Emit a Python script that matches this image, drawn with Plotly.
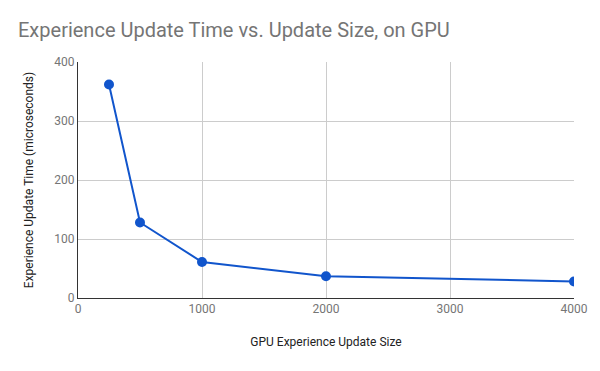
import plotly.graph_objects as go

update_size = [250, 500, 1000, 2000, 4000]
update_time_us = [362, 128, 61, 37, 28]
x_ticks = [0, 1000, 2000, 3000, 4000]
y_ticks = [0, 100, 200, 300, 400]

fig = go.Figure()
fig.add_trace(go.Scatter(
    x=update_size, y=update_time_us, mode="lines+markers",
    line=dict(color="#1155cc", width=2),
    marker=dict(color="#1155cc", size=10),
    showlegend=False,
))

fig.update_layout(
    width=600, height=371,
    margin=dict(l=78, r=26, t=62, b=73),
    paper_bgcolor="white", plot_bgcolor="white",
    font=dict(family="Roboto", size=12, color="#444"),
    title=dict(text="Experience Update Time vs. Update Size, on GPU",
               x=0.03, xanchor="left", y=0.92, yanchor="middle",
               font=dict(family="Roboto", size=20, color="#757575")),
)
fig.update_xaxes(
    range=[0, 4000], tickvals=x_ticks, showgrid=True, gridcolor="#cccccc",
    showline=True, linecolor="#333333", linewidth=1, zeroline=False,
    tickfont=dict(color="#757575", size=12), ticks="",
    title=dict(text="GPU Experience Update Size", font=dict(color="#222", size=12), standoff=22),
)
fig.update_yaxes(
    range=[0, 400], tickvals=y_ticks, showgrid=True, gridcolor="#cccccc",
    showline=True, linecolor="#333333", linewidth=1, zeroline=False,
    tickfont=dict(color="#757575", size=12), ticks="",
    title=dict(text="Experience Update Time (microseconds)", font=dict(color="#222", size=12), standoff=18),
)

fig.write_html("out.html", config={"displayModeBar": False},
               post_script="document.body.style.margin='0';")
